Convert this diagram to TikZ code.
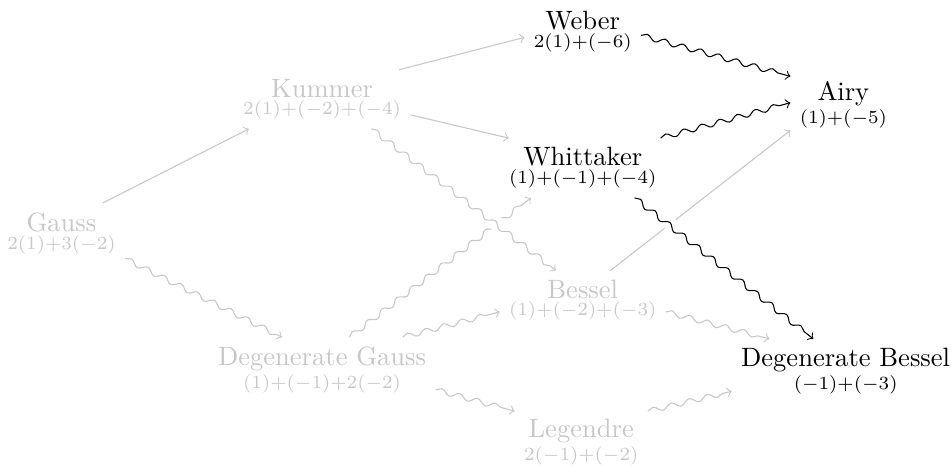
\documentclass[tikz,border=0pt]{standalone}
\usetikzlibrary{decorations.pathmorphing}

% name over its singularity pattern
\newcommand{\eqname}[2]{\vbox{\baselineskip=0pt\lineskip=1.3pt\lineskiplimit=0pt
  \halign{\hfil##\hfil\cr #1\cr\scriptsize #2\cr}}}

\begin{document}
\begin{tikzpicture}[
    eqn/.style={inner sep=3.33pt},
    faded/.style={black!22},
    arrow/.style={->, preaction={draw=white, line width=5pt, -}},
    wavy/.style={arrow, decorate, decoration={snake, amplitude=1pt, segment length=7pt, post length=2pt}}
]
    \useasboundingbox (-0.814,-3.084) rectangle (11.788,3.084);

    % Equations
    \node[eqn, faded] (gauss) at (0,0) {\eqname{Gauss}{2(1)+3($-$2)}};
    \node[eqn, faded] (kummer) at (3.45,1.77) {\eqname{Kummer}{2(1)+($-$2)+($-$4)}};
    \node[eqn] (weber) at (6.9,2.67) {\eqname{Weber}{2(1)+($-$6)}};
    \node[eqn] (whittaker) at (6.9,0.86) {\eqname{Whittaker}{(1)+($-$1)+($-$4)}};
    \node[eqn] (airy) at (10.35,1.70) {\eqname{Airy}{(1)+($-$5)}};
    \node[eqn, faded] (bessel) at (6.9,-0.89) {\eqname{Bessel}{(1)+($-$2)+($-$3)}};
    \node[eqn, faded] (deggauss) at (3.45,-1.81) {\eqname{Degenerate Gauss}{(1)+($-$1)+2($-$2)}};
    \node[eqn, faded] (legendre) at (6.88,-2.77) {\eqname{Legendre}{2($-$1)+($-$2)}};
    \node[eqn] (degbessel) at (10.38,-1.83) {\eqname{Degenerate Bessel}{($-$1)+($-$3)}};

    % Confluences
    \draw[arrow, faded] (gauss.36) -- (kummer.202);
    \draw[arrow, faded] (kummer.21) -- (weber.186);
    \draw[arrow, faded] (kummer.350) -- (whittaker.158);
    \draw[wavy, faded] (gauss.338) -- (deggauss.141);
    \draw[wavy, faded] (deggauss.50) -- (whittaker.210);
    \draw[wavy, faded] (kummer.329) -- (bessel.132);
    \draw[wavy, faded] (deggauss.22) -- (bessel.188);
    \draw[wavy, faded] (deggauss.350) -- (legendre.155);
    \draw[arrow, faded] (bessel.47) -- (airy.206);
    \draw[wavy, faded] (bessel.352) -- (degbessel.157);
    \draw[wavy, faded] (legendre.25) -- (degbessel.190);
    \draw[wavy] (weber.356) -- (airy.152);
    \draw[wavy] (whittaker.21) -- (airy.178);
    \draw[wavy] (whittaker.330) -- (degbessel.135);
\end{tikzpicture}
\end{document}
